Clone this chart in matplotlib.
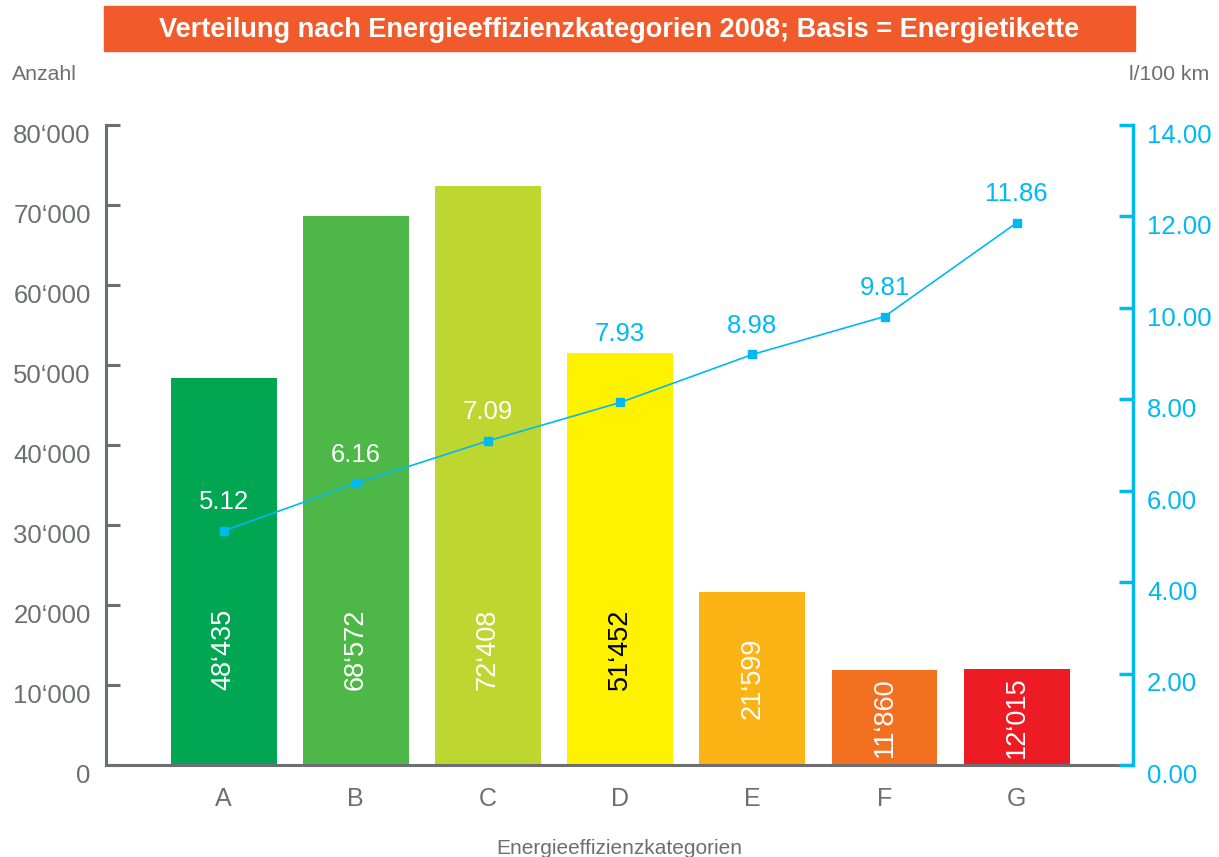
import matplotlib
matplotlib.use("Agg")
import matplotlib.pyplot as plt
from matplotlib.patches import Rectangle
from matplotlib.transforms import ScaledTranslation

plt.rcParams['font.family'] = ['Liberation Sans', 'DejaVu Sans']

categories = ["A", "B", "C", "D", "E", "F", "G"]
counts = [48435, 68572, 72408, 51452, 21599, 11860, 12015]
consumption = [5.12, 6.16, 7.09, 7.93, 8.98, 9.81, 11.86]
bar_colors = ["#00a651", "#4db848", "#bed730", "#fff200", "#fbb316", "#f37021", "#ed1c24"]
count_label_colors = ["white", "white", "white", "black", "white", "white", "white"]
cons_label_colors = ["white", "white", "white", "#00b9f1", "#00b9f1", "#00b9f1", "#00b9f1"]
left_ticks = [0, 10000, 20000, 30000, 40000, 50000, 60000, 70000, 80000]
right_ticks = [0, 2, 4, 6, 8, 10, 12, 14]

GRAY = "#6d6e71"
CYAN = "#00b9f1"

def fmt_thousands(v):
    if v == 0:
        return "0"
    s = f"{int(v):,}"
    return s.replace(",", "\u2018")

W, H = 1219, 857
fig = plt.figure(figsize=(W / 100, H / 100), dpi=100)
ax = fig.add_axes([106 / W, 1 - 765 / H, (1133 - 106) / W, (765 - 125) / H])

x = list(range(len(categories)))
ax.bar(x, counts, width=0.8, color=bar_colors, zorder=2)
ax.set_xlim(-0.89, 6.88)
ax.set_ylim(0, 80000)
ax.set_yticks(left_ticks)
ax.set_yticklabels([fmt_thousands(v) for v in left_ticks])
ax.set_xticks(x)
ax.set_xticklabels(categories)

for sp in ["top", "right"]:
    ax.spines[sp].set_visible(False)
ax.spines["left"].set_color(GRAY)
ax.spines["left"].set_linewidth(2.2)
ax.spines["bottom"].set_color(GRAY)
ax.spines["bottom"].set_linewidth(2.2)
ax.tick_params(axis="y", direction="in", length=10, width=2.2, color=GRAY,
               labelcolor=GRAY, labelsize=18.5, pad=11)
ax.tick_params(axis="x", length=0, labelcolor=GRAY, labelsize=18, pad=16)

for xi, v, c in zip(x, counts, count_label_colors):
    ax.text(xi, min(14400, v / 2), fmt_thousands(v), rotation=90, ha="center",
            va="center", color=c, fontsize=19.5, zorder=3)

ax.set_xlabel("Energieeffizienzkategorien", color=GRAY, fontsize=15, labelpad=20)

ax2 = ax.twinx()
ax2.set_ylim(0, 14)
ax2.set_yticks(right_ticks)
ax2.set_yticklabels([f"{v:.2f}" for v in right_ticks])
for sp in ["top", "left", "bottom"]:
    ax2.spines[sp].set_visible(False)
ax2.spines["right"].set_color(CYAN)
ax2.spines["right"].set_linewidth(2.5)
ax2.tick_params(axis="y", direction="in", length=10, width=2.5, color=CYAN,
                labelcolor=CYAN, labelsize=18.5, pad=10)

ax2.plot(x, consumption, color=CYAN, linewidth=1.2, marker="s", markersize=6,
         zorder=4)
for xi, v, cnt, c in zip(x, consumption, counts, cons_label_colors):
    pt_y = ax2.transData.transform((xi, v))[1]
    bar_y = ax.transData.transform((xi, cnt))[1]
    if c != "white" and bar_y > pt_y:
        # label would sit inside the bar: place it above the bar top
        ax.annotate(f"{v:.2f}", (xi, cnt), xytext=(0, 5), textcoords="offset points",
                    ha="center", va="bottom", color=c, fontsize=18.5, zorder=5)
    else:
        ax2.annotate(f"{v:.2f}", (xi, v), xytext=(0, 12), textcoords="offset points",
                     ha="center", va="bottom", color=c, fontsize=18.5)

off = ScaledTranslation(0, -6 / 72, fig.dpi_scale_trans)
for lab in ax.get_yticklabels() + ax2.get_yticklabels():
    lab.set_transform(lab.get_transform() + off)

# title box
fig.patches.append(Rectangle((104 / W, 1 - 51 / H), 1031 / W, 45 / H,
                             transform=fig.transFigure, color="#f15a2b", zorder=0))
fig.text(619.5 / W, 1 - 30 / H,
         "Verteilung nach Energieeffizienzkategorien 2008; Basis = Energietikette",
         ha="center", va="center", color="white", fontsize=19.5, fontweight="bold")

fig.text(12 / W, 1 - 75 / H, "Anzahl", ha="left", va="center", color=GRAY, fontsize=15.3)
fig.text(1209 / W, 1 - 75 / H, "l/100 km", ha="right", va="center", color=GRAY, fontsize=15.3)

fig.savefig("out.png", dpi=100)
